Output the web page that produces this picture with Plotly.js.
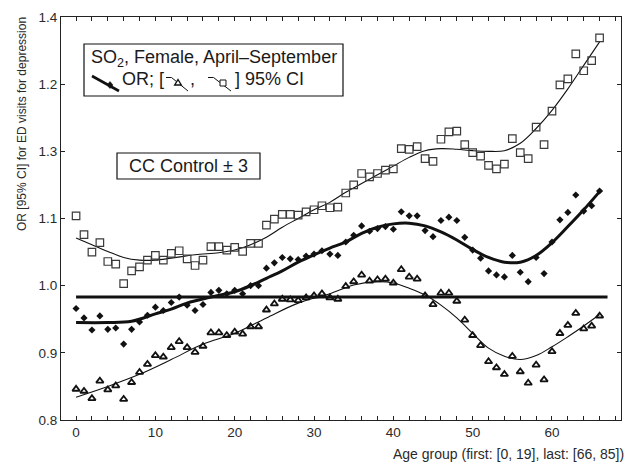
<!DOCTYPE html>
<html>
<head>
<meta charset="utf-8">
<script src="https://cdn.plot.ly/plotly-3.0.1.min.js"></script>
<style>html,body{margin:0;padding:0;background:#fff;} #chart{width:627px;height:462px;}</style>
</head>
<body>
<div id="chart"></div>
<script>
// ---------- data ----------
const ageIndex = [0,1,2,3,4,5,6,7,8,9,10,11,12,13,14,15,16,17,18,19,20,21,22,23,24,25,26,27,28,29,30,31,32,33,34,35,36,37,38,39,40,41,42,43,44,45,46,47,48,49,50,51,52,53,54,55,56,57,58,59,60,61,62,63,64,65,66];
const orValues = [0.966,0.952,0.934,0.955,0.935,0.937,0.913,0.935,0.946,0.956,0.968,0.963,0.975,0.983,0.971,0.963,0.972,0.990,0.993,0.988,0.993,0.988,1.000,1.000,1.026,1.034,1.042,1.040,1.039,1.044,1.047,1.052,1.047,1.045,1.065,1.075,1.089,1.081,1.085,1.088,1.084,1.110,1.104,1.104,1.082,1.073,1.097,1.102,1.097,1.072,1.053,1.041,1.022,1.016,1.013,1.045,1.020,1.006,1.042,1.018,1.065,1.098,1.109,1.135,1.111,1.119,1.141];
const ciLower = [0.846,0.843,0.832,0.858,0.845,0.851,0.831,0.856,0.871,0.883,0.896,0.894,0.908,0.917,0.908,0.901,0.910,0.930,0.930,0.926,0.931,0.928,0.939,0.939,0.964,0.973,0.980,0.979,0.978,0.982,0.985,0.988,0.982,0.980,0.999,1.006,1.016,1.007,1.009,1.010,1.004,1.024,1.013,1.010,0.985,0.972,0.989,0.989,0.977,0.949,0.926,0.911,0.887,0.878,0.868,0.895,0.872,0.855,0.882,0.860,0.902,0.929,0.941,0.959,0.936,0.940,0.955];
const ciUpper = [1.104,1.076,1.050,1.064,1.036,1.032,1.003,1.022,1.028,1.038,1.045,1.038,1.048,1.052,1.040,1.030,1.038,1.058,1.058,1.053,1.057,1.051,1.063,1.063,1.090,1.099,1.106,1.106,1.105,1.110,1.113,1.119,1.116,1.117,1.138,1.150,1.167,1.162,1.167,1.172,1.174,1.204,1.203,1.207,1.189,1.185,1.218,1.229,1.230,1.210,1.198,1.193,1.179,1.174,1.181,1.219,1.198,1.189,1.236,1.210,1.260,1.299,1.308,1.345,1.320,1.335,1.369];

// fitted (smoothed) curves, read at sample ages
const fitOrX = [0,4,7,10,12,14,17,20,22,24,26,28,30,32,34,36,38,40,42,44,46,48,50,52,54,56,58,60,62,64,66];
const fitOrY = [0.945,0.945,0.947,0.958,0.965,0.974,0.983,0.991,1.000,1.011,1.022,1.035,1.046,1.056,1.065,1.078,1.087,1.092,1.093,1.089,1.080,1.068,1.054,1.042,1.035,1.035,1.045,1.064,1.088,1.113,1.140];
const fitUpX = [0,2,4,6,8,10,12,15,18,20,22,24,26,28,30,32,34,36,38,40,42,44,46,48,50,52,54,56,58,60,62,64,66];
const fitUpY = [1.071,1.061,1.051,1.042,1.038,1.038,1.041,1.046,1.049,1.053,1.061,1.072,1.087,1.100,1.113,1.124,1.139,1.152,1.165,1.178,1.191,1.201,1.204,1.203,1.201,1.200,1.201,1.212,1.234,1.261,1.293,1.328,1.363];
const fitLoX = [0,4,8,12,16,20,24,28,32,35,38,40,42,44,46,48,50,52,54,56,58,60,62,64,66];
const fitLoY = [0.834,0.850,0.868,0.890,0.913,0.929,0.952,0.974,0.988,1.001,1.006,1.004,0.996,0.986,0.971,0.952,0.929,0.907,0.895,0.890,0.896,0.909,0.924,0.940,0.957];

const controlX = [0, 67];
const controlY = [0.983, 0.983];

const yTickVals = [0.8,0.9,1.0,1.1,1.2,1.3,1.4];
const yTickText = ['0.8','0.9','1.0','1.1','1.3','1.2','1.4'];
const xTickVals = [0,10,20,30,40,50,60];

// ---------- layout helpers ----------
const W = 627, H = 462;
const M = {l:61, r:6, t:17, b:42};
const PW = W - M.l - M.r, PH = H - M.t - M.b;
const px = x => (x - M.l) / PW;
const py = y => (H - M.b - y) / PH;

const textFont = {family:'Liberation Sans, Arial, sans-serif', size:18, color:'#1a1a1a'};
const tickFont = {family:'Liberation Sans, Arial, sans-serif', size:13.5, color:'#2a2a2a'};

const traces = [
  {x:controlX, y:controlY, mode:'lines', line:{color:'#111', width:3}, hoverinfo:'skip'},
  {x:fitUpX, y:fitUpY, mode:'lines', line:{color:'#111', width:1.1, shape:'spline', smoothing:1}},
  {x:fitLoX, y:fitLoY, mode:'lines', line:{color:'#111', width:1.1, shape:'spline', smoothing:1}},
  {x:fitOrX, y:fitOrY, mode:'lines', line:{color:'#111', width:3, shape:'spline', smoothing:1}},
  {x:ageIndex, y:ciUpper, mode:'markers', marker:{symbol:'square-open', size:7.5, color:'#3a3a3a', line:{width:1.2}}},
  {x:ageIndex, y:ciLower, mode:'markers', marker:{symbol:'triangle-up-open', size:6.5, color:'#111', line:{width:1.8}}},
  {x:ageIndex, y:orValues, mode:'markers', marker:{symbol:'diamond', size:5.5, color:'#111'}}
];

// legend glyph shapes (in pixel space converted to paper)
function seg(x0,y0,x1,y1,w){return {type:'line', xref:'paper', yref:'paper', x0:px(x0), y0:py(y0), x1:px(x1), y1:py(y1), line:{color:'#111', width:w}};}
function pathShape(pts, fill, lw){
  const d = pts.map((p,i)=>(i?'L':'M')+px(p[0]).toFixed(5)+','+py(p[1]).toFixed(5)).join(' ')+' Z';
  return {type:'path', xref:'paper', yref:'paper', path:d, fillcolor:fill, line:{color:'#111', width:lw}};
}
const shapes = [
  {type:'rect', xref:'paper', yref:'paper', x0:px(84), x1:px(343), y0:py(96), y1:py(44), line:{color:'#111', width:1.2}, fillcolor:'rgba(0,0,0,0)'},
  {type:'rect', xref:'paper', yref:'paper', x0:px(117), x1:px(260), y0:py(179), y1:py(153), line:{color:'#111', width:1.2}, fillcolor:'rgba(0,0,0,0)'},
  seg(92,76,119,91,2.6),
  pathShape([[110,81.5],[113,85],[110,88.5],[107,85]],'#111',0.5),
  seg(166,77.5,171.5,77.5,1), seg(171.5,77.5,188,91,1),
  pathShape([[178,79.5],[181.3,85],[174.7,85]],'#fff',1.4),
  seg(208,77.5,213.5,77.5,1), seg(213.5,77.5,231,91,1),
  pathShape([[220,80],[226,80],[226,86],[220,86]],'#fff',1)
];

const annotations = [
  {xref:'paper', yref:'paper', x:px(89), y:py(58.5), xanchor:'left', yanchor:'middle', showarrow:false, text:'SO<sub>2</sub>, Female, April\u2013September', font:textFont},
  {xref:'paper', yref:'paper', x:px(120), y:py(79.5), xanchor:'left', yanchor:'middle', showarrow:false, text:'OR; [', font:textFont},
  {xref:'paper', yref:'paper', x:px(188), y:py(79.5), xanchor:'left', yanchor:'middle', showarrow:false, text:',', font:textFont},
  {xref:'paper', yref:'paper', x:px(233), y:py(79.5), xanchor:'left', yanchor:'middle', showarrow:false, text:'] 95% CI', font:textFont},
  {xref:'paper', yref:'paper', x:px(188.5), y:py(166), xanchor:'center', yanchor:'middle', showarrow:false, text:'CC Control \u00b1 3', font:textFont},
  {xref:'paper', yref:'paper', x:px(22), y:py(15), xanchor:'center', yanchor:'top', textangle:-90, showarrow:false, text:'OR [95% CI] for ED visits for depression', font:{family:tickFont.family, size:12, color:'#2a2a2a'}},
  {xref:'paper', yref:'paper', x:px(626), y:py(454), xanchor:'right', yanchor:'middle', showarrow:false, text:'Age group (first: [0, 19], last: [66, 85])', font:{family:tickFont.family, size:14, color:'#2a2a2a'}}
];

const layout = {
  width:W, height:H, margin:M, showlegend:false,
  paper_bgcolor:'#fff', plot_bgcolor:'#fff',
  xaxis:{range:[-1.9,68.7], tickvals:xTickVals, ticks:'inside', ticklen:4, tickcolor:'#222', tickwidth:1,
         showline:true, linecolor:'#222', linewidth:1, mirror:'ticks', showgrid:false, zeroline:false,
         minor:{dtick:2, tick0:0, ticks:'inside', ticklen:4, tickcolor:'#222', showgrid:false},
         tickfont:tickFont},
  yaxis:{range:[0.8,1.4], tickvals:yTickVals, ticktext:yTickText, ticks:'inside', ticklen:4, tickcolor:'#222',
         showline:true, linecolor:'#222', linewidth:1, mirror:'ticks', showgrid:false, zeroline:false,
         tickfont:tickFont},
  shapes:shapes, annotations:annotations
};

Plotly.newPlot('chart', traces, layout, {staticPlot:true, displayModeBar:false});
</script>
</body>
</html>
